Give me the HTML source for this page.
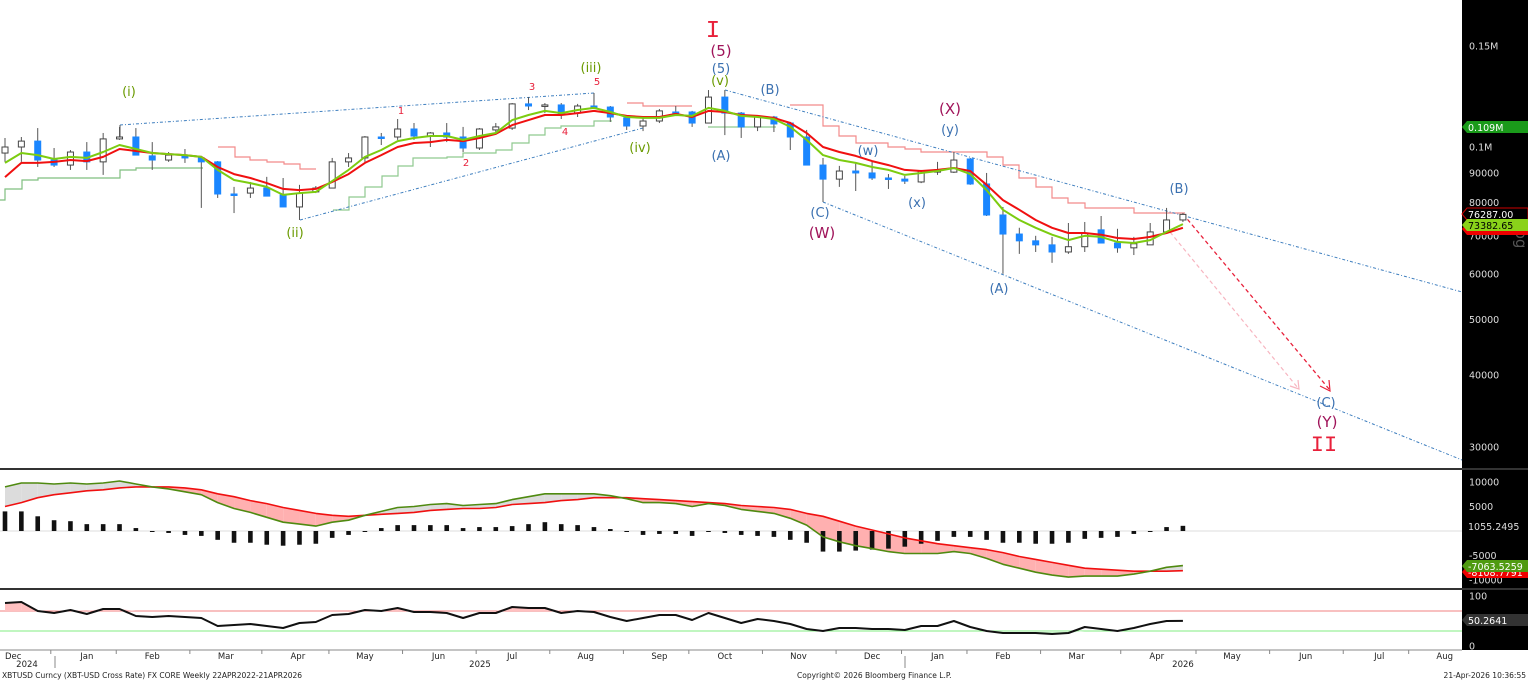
<!DOCTYPE html>
<html><head><meta charset="utf-8"><style>
html,body{margin:0;padding:0;background:#fff;}
svg{display:block;font-family:"DejaVu Sans","Liberation Sans",sans-serif;}
</style></head><body>
<svg id="chart" width="1528" height="681" viewBox="0 0 1528 681" xmlns="http://www.w3.org/2000/svg">
<rect x="0" y="0" width="1528" height="681" fill="#fff"/>
<rect x="1462" y="0" width="66" height="650" fill="#000"/>
<g id="price"></g>
<g id="macd"></g>
<g id="rsi"></g>
<g id="axis"></g>
<g id="labels"></g>
<g id="tags"></g>
<text x="2" y="678" font-size="7.5" fill="#222">XBTUSD Curncy (XBT-USD Cross Rate) FX CORE Weekly 22APR2022-21APR2026</text>
<text x="797" y="678" font-size="7.5" fill="#222">Copyright© 2026 Bloomberg Finance L.P.</text>
<text x="1526" y="678" font-size="7.5" fill="#222" text-anchor="end">21-Apr-2026 10:36:55</text>
</svg>
<script>
// ---- data (prices in thousands USD) ----
const opens=[97.6,100,102.4,94.9,93.0,98.0,94.2,103.3,104.1,96.5,94.9,96.5,95.7,94.2,82.8,83.1,84.8,82.5,78.6,83.5,84.8,94.2,95.7,104.1,104.1,107.5,104.5,105.8,104.1,99.6,107.1,107.9,118.9,118.4,118.4,114.6,117.9,117.4,112.4,108.8,111.0,115.1,115.1,110.1,122.2,114.6,108.4,112.8,110.1,104.1,93.0,87.9,90.8,90.1,88.3,87.9,86.9,90.4,90.4,95.3,86.2,76.1,70.5,68.6,67.5,65.6,67.0,71.7,68.0,66.7,67.5,71.1,74.6];
const closes=[100,102.4,94.9,93.0,98.0,94.2,103.3,104.1,96.8,94.9,96.8,95.7,94.2,82.8,82.6,84.8,82.1,78.6,83.1,84.8,94.2,95.7,104.1,103.9,107.5,104.5,105.8,104.1,99.6,107.5,108.4,118.9,117.9,118.4,114.2,117.9,117.4,112.8,108.8,111.0,115.6,114.6,110.1,122.2,114.6,108.4,112.8,109.7,104.1,93.0,87.9,90.8,90.1,88.3,88.1,87.2,90.8,91.2,94.9,86.2,76.1,70.5,68.6,67.5,65.6,67.0,70.8,68.0,66.7,67.8,71.1,74.6,76.29];
const highs=[103.7,104.1,107.9,99.6,98.8,102.0,105.8,108.4,107.9,102.0,98.0,99.2,96.5,94.5,85.2,86.9,88.7,88.3,85.9,85.5,95.7,97.6,104.5,105.8,111.9,110.1,106.2,110.1,108.4,107.9,110.1,119.3,122.2,119.3,119.3,118.9,124.2,117.9,112.8,112.8,116.5,117.9,115.6,125.7,125.7,115.1,113.7,113.3,110.6,107.1,95.7,92.7,93.8,94.2,89.7,89.0,91.2,94.2,98.0,95.7,90.1,78.6,72.3,70.0,69.7,73.7,74.0,75.8,72.0,69.7,73.7,78.3,76.7];
const lows=[94.2,94.2,92.3,92.3,91.2,91.2,89.4,102.9,96.8,91.2,94.2,93.8,78.3,81.5,76.7,81.5,82.1,78.6,74.6,83.1,84.8,92.3,94.2,100.8,102.9,102.9,100,102.0,98.0,98.8,106.2,107.1,116.0,114.6,111.9,112.8,116.5,110.6,107.1,106.6,110.1,114.2,108.4,110.1,104.9,103.7,106.6,106.2,98.8,93.0,80.2,85.2,83.8,87.6,84.5,86.2,86.5,89.4,90.1,85.9,75.8,60.1,65.1,65.6,62.8,65.1,65.6,68.0,65.4,64.8,67.5,71.1,74.0];
const maFast=[93.8,97.6,96.8,95.3,96.1,95.7,98.0,100.8,99.2,97.6,97.2,96.8,96.1,91.2,87.6,86.5,85.2,82.5,83.1,83.5,87.2,91.2,96.1,98.8,102.4,103.7,104.5,104.5,102.9,104.5,105.8,111.4,113.7,115.6,114.6,116.0,117.0,115.1,112.8,112.4,112.4,113.7,113.3,117.0,115.6,113.3,112.8,111.9,108.4,102.9,96.8,94.9,93.8,92.3,91.2,89.4,90.1,90.8,91.9,89.7,84.1,77.7,74.6,72.3,70.3,68.8,70.0,69.7,68.3,68.0,68.8,71.1,73.38];
const maSlow=[88.6,93.8,93.8,94.2,94.9,94.5,96.1,99.2,98.4,97.6,97.2,96.8,96.1,92.3,89.7,88.3,86.5,84.5,84.1,84.5,86.9,89.7,93.8,96.8,100,101.6,102.0,102.9,102.4,103.7,105.4,109.2,111.4,113.7,113.7,114.6,115.6,114.6,113.3,112.8,112.8,114.2,112.8,115.6,115.1,113.7,113.3,112.4,110.1,105.8,100,98.0,96.5,94.5,93.0,91.2,90.8,91.2,91.9,90.8,85.9,80.8,77.7,74.6,72.3,70.8,70.8,70.3,69.4,69.1,69.7,70.8,72.3];
const macdLine=[9000,9800,9800,9600,9800,9600,9800,10200,9600,9000,8600,8000,7400,5800,4600,3800,2800,1800,1400,1000,1800,2200,3200,4000,4800,5000,5400,5600,5200,5400,5600,6400,7000,7600,7600,7600,7600,7200,6600,5800,5800,5600,5000,5600,5200,4400,4000,3600,2600,1200,-1200,-2200,-3000,-3600,-4200,-4600,-4600,-4600,-4200,-4600,-5600,-6800,-7600,-8400,-9000,-9400,-9200,-9200,-9200,-8800,-8200,-7400,-7063];
const signalLine=[5000,5800,6800,7400,7800,8200,8400,8800,9000,9000,9000,8800,8400,7600,7000,6200,5600,4800,4200,3600,3200,3000,3200,3400,3600,3800,4200,4400,4600,4600,4800,5400,5600,5800,6200,6400,6800,6800,6800,6600,6400,6200,6000,5800,5600,5200,5000,4800,4400,3600,3000,2000,1000,200,-600,-1400,-2000,-2600,-3000,-3400,-3800,-4400,-5200,-5800,-6400,-7000,-7600,-7800,-8000,-8200,-8200,-8200,-8100];
const histValues=[4000,4000,3000,2200,2000,1400,1400,1400,600,0,-400,-800,-1000,-1800,-2400,-2400,-2800,-3000,-2800,-2600,-1400,-800,0,600,1200,1200,1200,1200,600,800,800,1000,1400,1800,1400,1200,800,400,-200,-800,-600,-600,-1000,-200,-400,-800,-1000,-1200,-1800,-2400,-4200,-4200,-4000,-3800,-3600,-3200,-2600,-2000,-1200,-1200,-1800,-2400,-2400,-2600,-2600,-2400,-1600,-1400,-1200,-600,0,800,1055];
const rsiValues=[86,88,70,66,72,64,74,74,60,58,60,58,56,40,42,44,40,36,46,48,62,64,72,70,76,68,68,66,56,66,66,78,76,76,66,70,68,58,50,56,62,62,52,66,56,46,54,50,44,34,30,36,36,34,34,32,40,40,50,38,30,26,26,26,24,26,38,34,30,36,44,50,50.3];
const priceTicks=[150,100,90,80,70,60,50,40,30];
const priceTickLabels=["0.15M","0.1M","90000","80000","70000","60000","50000","40000","30000"];
const macdTicks=[10000,5000,-5000,-10000];
const rsiTicks=[100,0];
const months=["Dec","Jan","Feb","Mar","Apr","May","Jun","Jul","Aug","Sep","Oct","Nov","Dec","Jan","Feb","Mar","Apr","May","Jun","Jul","Aug"];
const monthIdx=[0.5,5,9,13.5,17.9,22,26.5,31,35.5,40,44,48.5,53,57,61,65.5,70.4,75,79.5,84,88];

// ---- axis functions ----
const NS="http://www.w3.org/2000/svg";
const X=i=>5+i*16.36;
const Y=p=>147-249*Math.log(p/100);
const MY=v=>531-v*0.0049;
const RY=v=>646-v*0.5;
function mk(tag,attrs,parent,text){const e=document.createElementNS(NS,tag);for(const k in attrs)e.setAttribute(k,attrs[k]);if(text!==undefined)e.textContent=text;parent.appendChild(e);return e;}
const P=document.getElementById('price'),M=document.getElementById('macd'),R=document.getElementById('rsi'),A=document.getElementById('axis'),L=document.getElementById('labels'),T=document.getElementById('tags');

let s1=mk('rect',{x:0,y:468,width:1528,height:2,fill:'#333'},document.getElementById('chart'));


let s2=mk('rect',{x:0,y:588,width:1528,height:2,fill:'#333'},document.getElementById('chart'));



const stepDefs=[
 ['#7fbf7f','0,200 5,200 5,189 22,189 22,180 38,180 38,178 120,178 120,170 136,170 136,168 203,168'],
 ['#8fc98f','333,210 349,210 349,197 365,197 365,187 382,187 382,176 398,176 398,166 413,166 413,158 447,158 447,157 463,157 463,153 496,153 496,150 512,150 512,143 529,143 529,135 545,135 545,128 561,128 561,126 594,126 594,121 612,121'],
 ['#8fc98f','708,127 776,127'],
 ['#f28b8b','218,147 235,147 235,157 250,157 250,160 267,160 267,162 284,162 284,164 300,164 300,169 316,169'],
 ['#f28b8b','627,103 643,103 643,106 692,106'],
 ['#f28b8b','790,105 823,105 823,126 839,126 839,136 856,136 856,143 888,143 888,147 905,147 905,149 921,149 921,152 987,152 987,157 1003,157 1003,165 1019,165 1019,178 1036,178 1036,187 1052,187 1052,198 1068,198 1068,203 1085,203 1085,208 1134,208 1134,213 1185,213']];
stepDefs.forEach(d=>{const e=mk('polyline',{points:d[1],fill:'none',stroke:d[0],'stroke-width':1.2},P);

});

const tl=[[120,125,594,93],[300,220,643,128],[725,90,1462,292],[823,202,1462,460]];
tl.forEach(t=>{const e=mk('line',{x1:t[0],y1:t[1],x2:t[2],y2:t[3],stroke:'#3f7fbf','stroke-width':1,'stroke-dasharray':'3,2,1,2'},P);

});
let tk=mk('line',{x1:120,y1:125,x2:120,y2:137,stroke:'#555','stroke-width':1},P);
let tk2=mk('line',{x1:594,y1:93,x2:594,y2:104,stroke:'#555','stroke-width':1},P);
let pa=mk('line',{x1:1170,y1:232,x2:1298,y2:388,stroke:'#f7b5c0','stroke-width':1.2,'stroke-dasharray':'4,3'},P);
let pb=mk('line',{x1:1183,y1:214,x2:1329,y2:389,stroke:'#e8203a','stroke-width':1.3,'stroke-dasharray':'4,3'},P);
let ph=mk('polyline',{points:'1320,386 1330,391 1329,380',fill:'none',stroke:'#e8203a','stroke-width':1.2},P);
let ph2=mk('polyline',{points:'1290,386 1299,389 1298,380',fill:'none',stroke:'#f7b5c0','stroke-width':1.2},P);

for(let i=0;i<opens.length;i++){
 const x=X(i),o=Y(opens[i]),c=Y(closes[i]),h=Y(highs[i]),l=Y(lows[i]);
 const up=closes[i]>=opens[i];
 const w=mk('line',{x1:x,y1:h,x2:x,y2:l,stroke:'#555','stroke-width':1},P);
 
 
 const top=Math.min(o,c),ht=Math.max(1.5,Math.abs(o-c));
 const b=mk('rect',{x:x-3,y:top,width:6,height:ht,fill:up?'#fff':'#1a86ff',stroke:up?'#444':'#1a86ff','stroke-width':1},P);
 
 
}
function line(arr,f,color,w,parent,name){const pts=arr.map((v,i)=>X(i)+','+f(v).toFixed(1)).join(' ');const e=mk('polyline',{points:pts,fill:'none',stroke:color,'stroke-width':w,'stroke-linejoin':'round'},parent);

}
line(maSlow,Y,'#f01010',2,P,'slow-moving-average');
line(maFast,Y,'#7ccc10',2,P,'fast-moving-average');

priceTicks.forEach((p,k)=>{const e=mk('text',{x:1469,y:Y(p)+3.5,'font-size':9.5,fill:'#ddd'},P,priceTickLabels[k]);

});
let lg=mk('text',{x:1516,y:237,'font-size':15,fill:'#555',transform:'rotate(90 1516 237)','text-anchor':'middle'},P,'log');


let zl=mk('line',{x1:0,y1:MY(0),x2:1462,y2:MY(0),stroke:'#ddd','stroke-width':1},M);
for(let i=0;i<macdLine.length-1;i++){
 const above=(macdLine[i]+macdLine[i+1])>=(signalLine[i]+signalLine[i+1]);
 const pts=[X(i)+','+MY(macdLine[i]),X(i+1)+','+MY(macdLine[i+1]),X(i+1)+','+MY(signalLine[i+1]),X(i)+','+MY(signalLine[i])].join(' ');
 const e=mk('polygon',{points:pts,fill:above?'#dcdcdc':'#ffb0b0',stroke:'none'},M);
 
 
}
histValues.forEach((v,i)=>{const y0=MY(0),y1=MY(v);const e=mk('rect',{x:X(i)-2.3,y:Math.min(y0,y1),width:4.6,height:Math.max(1,Math.abs(y1-y0)),fill:'#111'},M);

});
line(signalLine,MY,'#f01010',1.6,M,'macd-signal-line');
line(macdLine,MY,'#4f8a10',1.6,M,'macd-line');
macdTicks.forEach(v=>{const e=mk('text',{x:1469,y:MY(v)+3.5,'font-size':9.5,fill:'#ddd'},M,String(v));

});

let r70=mk('line',{x1:0,y1:RY(70),x2:1462,y2:RY(70),stroke:'#f08080','stroke-width':1},R);
let r30=mk('line',{x1:0,y1:RY(30),x2:1462,y2:RY(30),stroke:'#80ee80','stroke-width':1},R);
for(let i=0;i<rsiValues.length-1;i++){
 const a=rsiValues[i],b=rsiValues[i+1];
 [[70,1,'#ffc0c0'],[30,-1,'#c8f5c8']].forEach(([lv,sg,col])=>{
  if(sg*(a-lv)>0||sg*(b-lv)>0){const ca=sg>0?Math.max(a,lv):Math.min(a,lv),cb=sg>0?Math.max(b,lv):Math.min(b,lv);
   const e=mk('polygon',{points:[X(i)+','+RY(ca),X(i+1)+','+RY(cb),X(i+1)+','+RY(lv),X(i)+','+RY(lv)].join(' '),fill:col},R);
   
   }
 });
}
line(rsiValues,RY,'#111',2,R,'rsi-line');
rsiTicks.forEach(v=>{const e=mk('text',{x:1469,y:RY(v)+3.5,'font-size':9.5,fill:'#ddd'},R,String(v));

});

let ab=mk('line',{x1:0,y1:650,x2:1462,y2:650,stroke:'#888','stroke-width':1},A);
months.forEach((m,k)=>{const x=X(monthIdx[k]);const t=mk('text',{x:x,y:659,'font-size':8.5,fill:'#222','text-anchor':'middle'},A,m);


const tick=mk('line',{x1:x-36,y1:650,x2:x-36,y2:654,stroke:'#888'},A);

});
[['2024',27],['2025',480],['2026',1183]].forEach(d=>{const t=mk('text',{x:d[1],y:667,'font-size':8.5,fill:'#222','text-anchor':'middle'},A,d[0]);

});
[55,905].forEach(x=>{const e=mk('line',{x1:x,y1:656,x2:x,y2:668,stroke:'#888'},A);});

const BL='#3a70b0',GR='#6a9a00',MR='#a0145a',RD='#e8203a';
const lbl=[['I',713,37,24,RD],['(5)',721,56,15,MR],['(5)',721,73,13,BL],['(v)',720,85,13,GR],['(B)',770,94,13,BL],['(A)',721,160,13,BL],
['(i)',129,96,13,GR],['(ii)',295,237,13,GR],['(iii)',591,72,13,GR],['(iv)',640,152,13,GR],
['1',401,114,10,RD],['2',466,166,10,RD],['3',532,90,10,RD],['4',565,135,10,RD],['5',597,85,10,RD],
['(w)',868,155,13,BL],['(x)',917,207,13,BL],['(y)',950,134,13,BL],['(X)',950,114,15,MR],['(C)',820,217,13,BL],['(W)',822,238,15,MR],
['(A)',999,293,13,BL],['(B)',1179,193,13,BL],['(C)',1326,407,13,BL],['(Y)',1327,427,15,MR],['II',1324,451,22,RD]];
lbl.forEach(d=>{const roman=(d[0]==='I'||d[0]==='II');const t=mk('text',{x:d[1],y:d[2],'font-size':d[3],fill:d[4],'text-anchor':'middle','font-family':roman?'"Liberation Mono",monospace':'"DejaVu Sans",sans-serif','letter-spacing':'0'},L,d[0]);

});

function tag(y,txt,bg,fg,stroke,name){const g=mk('g',{},T);


mk('polygon',{points:`1462,${y} 1467,${y-6} 1528,${y-6} 1528,${y+6} 1467,${y+6}`,fill:bg,stroke:stroke||'none','stroke-width':1},g);
mk('text',{x:1468,y:y+4,'font-size':9.5,fill:fg},g,txt);}
tag(127,'0.109M','#1a9a1a','#fff',null,'high-tag');
tag(229,'',"#e00",'#fff',null,'slow-ma-tag');
tag(214,'76287.00','#000','#fff','#c00','last-price-tag');
tag(225,'73382.65','#8ad21a','#000',null,'fast-ma-tag');
tag(572,'-8108.7791','#e00','#fff',null,'macd-signal-tag');
tag(566,'-7063.5259','#4f9a10','#fff',null,'macd-tag');
let ht=mk('text',{x:1468,y:530,'font-size':9.5,fill:'#ddd'},T,'1055.2495');
tag(620,'50.2641','#333','#fff',null,'rsi-tag');
</script>
</body></html>
